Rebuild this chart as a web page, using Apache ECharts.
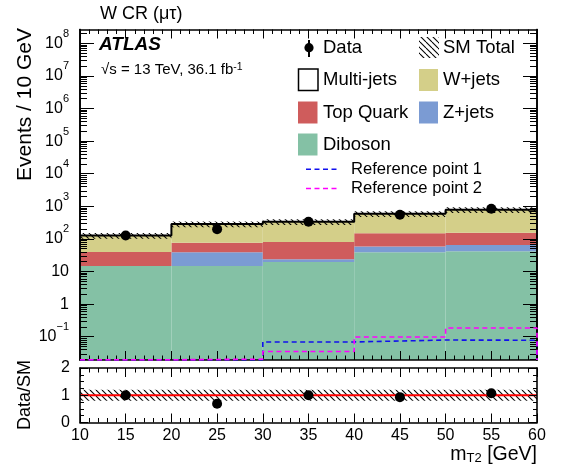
<!DOCTYPE html>
<html><head><meta charset="utf-8">
<script src="https://cdn.jsdelivr.net/npm/echarts@6/dist/echarts.min.js"></script>
<style>html,body{margin:0;padding:0;background:#fff}#c{width:568px;height:469px}</style>
</head><body><div id="c"></div>
<script>
// ---- data ----
const binEdges   = [10, 20, 30, 40, 50, 60];
const diboson    = [14.7, 14.7, 19.5, 38.8, 41.6];
const zjets      = [0, 24.1, 4.2, 20.2, 23.4];
const topQuark   = [24.9, 37.2, 56.3, 89, 90];
const wjets      = [87.4, 210, 257, 445, 631];
const multijets  = [0, 0, 0, 0, 0];
const dataValues = [127, 197, 337, 552, 843];
const smRelUnc   = [0.2, 0.2, 0.2, 0.2, 0.2];
const ref1       = [0.0196, 0.0196, 0.069, 0.079, 0.078];
const ref2       = [0.0196, 0.0205, 0.035, 0.098, 0.185];
const logMajorTicks = [0.1, 1, 10, 100, 1e3, 1e4, 1e5, 1e6, 1e7, 1e8];
const ratioTicks = [0, 1, 2];

const YMIN = 0.0193, YMAX = 2.66e8;
const FONT = "'Liberation Sans', Arial, Helvetica, sans-serif";
const COLORS = { diboson:'#84c1a5', zjets:'#7b9bd3', top:'#cf5c5c', wjets:'#d4cf89', multi:'#ffffff' };

// minor log ticks (2..9 x 10^n) inside the axis range
const logMinorTicks = [];
[0.01].concat(logMajorTicks).forEach(d => {
  for (let k = 2; k <= 9; k++) { const v = +(k * d).toPrecision(3); if (v > YMIN && v < YMAX) logMinorTicks.push(v); }
});

const nb = binEdges.length - 1;
const comps = [
  { name:'Diboson', vals:diboson, color:COLORS.diboson },
  { name:'Z+jets', vals:zjets, color:COLORS.zjets },
  { name:'Top Quark', vals:topQuark, color:COLORS.top },
  { name:'W+jets', vals:wjets, color:COLORS.wjets },
  { name:'Multi-jets', vals:multijets, color:COLORS.multi }
];
const cum = new Array(nb).fill(0);
comps.forEach(c => {
  c.rows = [];
  for (let i = 0; i < nb; i++) {
    const lo = cum[i], hi = cum[i] + c.vals[i];
    c.rows.push([binEdges[i], binEdges[i+1], lo, hi]);
    cum[i] = hi;
  }
});
const total = cum.slice();
const centers = [];
for (let i = 0; i < nb; i++) centers.push((binEdges[i] + binEdges[i+1]) / 2);

function hatchCanvas() {
  const s = 6, c = document.createElement('canvas');
  c.width = s; c.height = s;
  const g = c.getContext('2d');
  g.strokeStyle = '#000'; g.lineWidth = 1.1;
  [-s, 0, s].forEach(o => { g.beginPath(); g.moveTo(o, 0); g.lineTo(o + s, s); g.stroke(); });
  return c;
}
const HATCH = { image: hatchCanvas(), repeat: 'repeat' };

function rectItem(fill) {
  return function (params, api) {
    const x0 = api.value(0), x1 = api.value(1);
    let lo = api.value(2), hi = api.value(3);
    if (!(hi > lo)) return null;
    lo = Math.max(lo, YMIN);
    const p0 = api.coord([x0, lo]), p1 = api.coord([x1, hi]);
    const cs = params.coordSys;
    const top = Math.max(p1[1], cs.y), bot = Math.min(p0[1], cs.y + cs.height);
    return { type:'rect', shape:{ x:p0[0], y:top, width:p1[0]-p0[0], height:bot-top }, style:{ fill:fill } };
  };
}

function stepLine(vals) {
  const pts = [];
  for (let i = 0; i < nb; i++) { pts.push([binEdges[i], vals[i]]); pts.push([binEdges[i+1], vals[i]]); }
  return pts;
}

const series = [];
comps.forEach(c => {
  if (c.name === 'Multi-jets') return;
  series.push({ type:'custom', name:c.name, xAxisIndex:0, yAxisIndex:0, clip:true,
    data:c.rows, encode:{ x:[0,1], y:[2,3] }, renderItem: rectItem(c.color), z:2 });
});
series.push({ type:'line', name:'SM Total', xAxisIndex:0, yAxisIndex:0, data:stepLine(total),
  symbol:'none', lineStyle:{ color:'#000', width:2 }, z:3, silent:true });
series.push({ type:'custom', name:'SM unc', xAxisIndex:0, yAxisIndex:0, clip:true, z:4,
  data: total.map((t,i)=>[binEdges[i], binEdges[i+1], t*(1-smRelUnc[i]), t*(1+smRelUnc[i])]),
  encode:{ x:[0,1], y:[2,3] }, renderItem: rectItem(HATCH) });
const refStep = (vals) => { const p = stepLine(vals); p.push([binEdges[nb], YMIN]); return p; };
series.push({ type:'line', name:'Reference point 1', xAxisIndex:0, yAxisIndex:0, data:refStep(ref1),
  symbol:'none', lineStyle:{ color:'#1010ee', width:1.6, type:[5,3.5] }, z:9, clip:false });
series.push({ type:'line', name:'Reference point 2', xAxisIndex:0, yAxisIndex:0, data:refStep(ref2),
  symbol:'none', lineStyle:{ color:'#ff00ff', width:1.6, type:[5,3.5] }, z:9, clip:false });
series.push({ type:'scatter', name:'Data', xAxisIndex:0, yAxisIndex:0,
  data: dataValues.map((v,i)=>[centers[i], v]), symbol:'circle', symbolSize:10,
  itemStyle:{ color:'#000', opacity:1 }, z:6 });

// ratio panel
series.push({ type:'custom', name:'ratio unc', xAxisIndex:2, yAxisIndex:4, clip:true, z:2,
  data: total.map((t,i)=>[binEdges[i], binEdges[i+1], 1-smRelUnc[i], 1+smRelUnc[i]]),
  encode:{ x:[0,1], y:[2,3] },
  renderItem: function (params, api) {
    const p0 = api.coord([api.value(0), api.value(2)]), p1 = api.coord([api.value(1), api.value(3)]);
    return { type:'rect', shape:{ x:p0[0], y:p1[1], width:p1[0]-p0[0], height:p0[1]-p1[1] }, style:{ fill:HATCH } };
  } });
series.push({ type:'line', name:'unity', xAxisIndex:2, yAxisIndex:4, data:[[binEdges[0],1],[binEdges[nb],1]],
  symbol:'none', lineStyle:{ color:'#ff0000', width:1.8 }, z:3 });
series.push({ type:'scatter', name:'Data/SM', xAxisIndex:2, yAxisIndex:4,
  data: dataValues.map((v,i)=>[centers[i], v/total[i]]), symbol:'circle', symbolSize:10,
  itemStyle:{ color:'#000', opacity:1 }, z:6 });

const axisLine = { show:true, onZero:false, lineStyle:{ color:'#000', width:1.6 } };
function xAx(grid, pos, labels) {
  return { type:'value', gridIndex:grid, position:pos, min:binEdges[0], max:binEdges[nb], interval:5, z:8,
    axisLine, splitLine:{show:false},
    axisTick:{ show:true, inside:true, length:9, lineStyle:{ color:'#000', width:1 } },
    minorTick:{ show:true, splitNumber:5, length:4.5, lineStyle:{ color:'#000', width:1 } },
    axisLabel:{ show:labels, color:'#000', fontSize:16, fontFamily:FONT, margin:5 } };
}
function logAx(pos, labels, vals, len) {
  return { type:'log', gridIndex:0, position:pos, min:YMIN, max:YMAX, logBase:10, z:8,
    axisLine, splitLine:{show:false}, minorTick:{show:false},
    axisTick:{ show:true, inside:true, length:len, customValues:vals, lineStyle:{ color:'#000', width:1 } },
    axisLabel:{ show:labels, customValues:vals, color:'#000', fontSize:16, fontFamily:FONT, margin:11,
      formatter: function (v) {
        const n = Math.round(Math.log10(v));
        if (n === 0) return '1';
        if (n === 1) return '10';
        return '{base|10}{sup|' + (n < 0 ? '\u2212' + (-n) : n) + '}';
      },
      rich:{ base:{ fontSize:16, fontFamily:FONT, color:'#000', padding:[7,0,7,0] },
             sup:{ fontSize:11, fontFamily:FONT, color:'#000', verticalAlign:'top' } } } };
}
function ratioAx(pos, labels) {
  return { type:'value', gridIndex:1, position:pos, min:ratioTicks[0], max:ratioTicks[ratioTicks.length-1], interval:1, z:8,
    axisLine, splitLine:{show:false},
    axisTick:{ show:true, inside:true, length:8, lineStyle:{ color:'#000', width:1 } },
    minorTick:{ show:true, splitNumber:4, length:4, lineStyle:{ color:'#000', width:1 } },
    axisLabel:{ show:labels, color:'#000', fontSize:16, fontFamily:FONT, margin:10 } };
}

const txt = (x, y, text, size, extra) => Object.assign({ type:'text', x, y, silent:true,
  style: Object.assign({ text, fill:'#000', fontSize:size, fontFamily:FONT, verticalAlign:'middle' }, (extra && extra.style) || {}) },
  extra ? { rotation: extra.rotation || 0, z: 10 } : { z:10 });

const graphics = [
  txt(100, 14, 'W CR (\u03bc\u03c4)', 18),
  txt(99, 45, 'ATLAS', 19, { style:{ fontWeight:'bold', fontStyle:'italic' } }),
  { type:'text', x:101, y:70, z:10, silent:true, style:{ text:'\u221as = 13 TeV, 36.1 fb{sup|-1}', fill:'#000', fontSize:15, fontFamily:FONT, verticalAlign:'middle',
      rich:{ sup:{ fontSize:10.5, fontFamily:FONT, fill:'#000', verticalAlign:'top', padding:[0,0,6,0] } } } },
  txt(25, 28, 'Events / 10 GeV', 21, { rotation: Math.PI/2, style:{ align:'right' } }),
  txt(25, 395, 'Data/SM', 18, { rotation: Math.PI/2, style:{ align:'center' } }),
  { type:'text', x:537, y:455, z:10, silent:true, style:{ text:'m{sub|T2} [GeV]', fill:'#000', fontSize:19.5, fontFamily:FONT, align:'right', verticalAlign:'middle',
      rich:{ sub:{ fontSize:13, fontFamily:FONT, fill:'#000', verticalAlign:'bottom', padding:[6,0,0,0] } } } },
  // legend
  { type:'line', silent:true, z:10, shape:{ x1:309, y1:40, x2:309, y2:57 }, style:{ stroke:'#000', lineWidth:2 } },
  { type:'circle', silent:true, z:10, shape:{ cx:309, cy:47.7, r:4.6 }, style:{ fill:'#000' } },
  txt(323, 47.7, 'Data', 18.5),
  { type:'rect', silent:true, z:10, shape:{ x:419, y:37, width:20, height:21 }, style:{ fill:HATCH } },
  txt(443, 47.7, 'SM Total', 18.5),
  { type:'rect', silent:true, z:10, shape:{ x:298.5, y:69, width:19.5, height:21.5 }, style:{ fill:'#fff', stroke:'#000', lineWidth:1.5 } },
  txt(323, 80, 'Multi-jets', 18.5),
  { type:'rect', silent:true, z:10, shape:{ x:419, y:69, width:19, height:22 }, style:{ fill:COLORS.wjets } },
  txt(443, 80, 'W+jets', 18.5),
  { type:'rect', silent:true, z:10, shape:{ x:298, y:101.5, width:19.5, height:22 }, style:{ fill:COLORS.top } },
  txt(323, 112.7, 'Top Quark', 18.5),
  { type:'rect', silent:true, z:10, shape:{ x:419, y:101.5, width:19, height:22 }, style:{ fill:COLORS.zjets } },
  txt(443, 112.7, 'Z+jets', 18.5),
  { type:'rect', silent:true, z:10, shape:{ x:298, y:133.5, width:19.5, height:22 }, style:{ fill:COLORS.diboson } },
  txt(323, 145, 'Diboson', 18.5),
  { type:'line', silent:true, z:10, shape:{ x1:306, y1:169.3, x2:338, y2:169.3 }, style:{ stroke:'#1010ee', lineWidth:1.6, lineDash:[5,3.5] } },
  txt(351, 169.3, 'Reference point 1', 16.6),
  { type:'line', silent:true, z:10, shape:{ x1:306, y1:188.5, x2:338, y2:188.5 }, style:{ stroke:'#ff00ff', lineWidth:1.6, lineDash:[5,3.5] } },
  txt(351, 188.5, 'Reference point 2', 16.6)
];

const chart = echarts.init(document.getElementById('c'), null, { renderer:'canvas' });
chart.setOption({
  animation:false,
  backgroundColor:'#fff',
  textStyle:{ fontFamily:FONT },
  grid:[ { left:80, right:31, top:29.5, bottom:109 }, { left:80, right:31, top:368, bottom:46.5 } ],
  xAxis:[ xAx(0,'bottom',false), xAx(0,'top',false), xAx(1,'bottom',true), xAx(1,'top',false) ],
  yAxis:[ logAx('left',true,logMajorTicks,14), logAx('left',false,logMinorTicks,7),
          logAx('right',false,logMajorTicks,14), logAx('right',false,logMinorTicks,7),
          ratioAx('left',true), ratioAx('right',false) ],
  series,
  graphic: graphics
});
</script>
</body></html>
